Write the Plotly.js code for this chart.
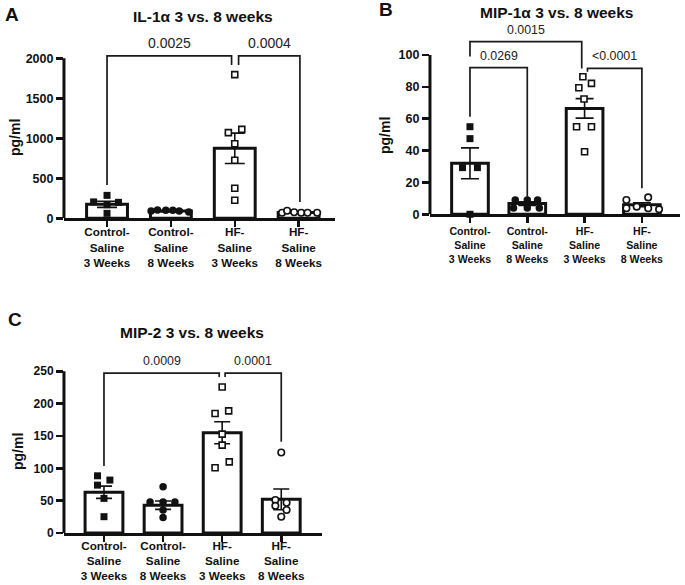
<!DOCTYPE html>
<html>
<head>
<meta charset="utf-8">
<script src="https://cdn.plot.ly/plotly-3.0.1.min.js"></script>
<style>html,body{margin:0;padding:0;background:#fff;}#chart{width:685px;height:585px;}</style>
</head>
<body>
<div id="chart"></div>
<script>
// ---------- data ----------
const categories = ["Control-<br>Saline<br>3 Weeks", "Control-<br>Saline<br>8 Weeks", "HF-<br>Saline<br>3 Weeks", "HF-<br>Saline<br>8 Weeks"];

// Panel A: IL-1α (pg/ml)
const aTitle = "IL-1α 3 vs. 8 weeks";
const aMeans = [175, 90, 875, 72];
const aSems = [38, 7, 190, 6];
const aCtrl3 = [287, 205, 200, 170, 62];
const aCtrl3Dx = [0, -0.21, 0.18, 0, 0];
const aCtrl8 = [90, 105, 100, 100, 90, 80];
const aCtrl8Dx = [-0.31, -0.21, -0.08, 0.03, 0.13, 0.28];
const aHf3 = [1796, 1112, 1071, 933, 725, 375, 225];
const aHf3Dx = [0, 0.11, -0.1, 0, 0, 0, 0];
const aHf8 = [70, 95, 75, 70, 70, 70];
const aHf8Dx = [-0.26, -0.18, -0.07, 0.04, 0.14, 0.29];
const aTicks = [0, 500, 1000, 1500, 2000];
// brackets: [from, to, top, leftEnd, rightEnd, label]
const aBrackets = [[0, 1.95, 2030, 416, 1916, "0.0025"], [2.06, 3.02, 2030, 1916, 204, "0.0004"]];

// Panel B: MIP-1α (pg/ml)
const bTitle = "MIP-1α 3 vs. 8 weeks";
const bMeans = [32, 6.7, 66.5, 6];
const bSems = [9.7, 1.2, 6.1, 1.2];
const bCtrl3 = [55, 47.5, 29.3, 29.3, 0];
const bCtrl3Dx = [0, 0, -0.13, 0.13, 0];
const bCtrl8 = [9, 9, 9, 4, 4, 4];
const bCtrl8Dx = [-0.21, 0, 0.18, -0.24, 0, 0.21];
const bHf3 = [86.4, 82.2, 79.5, 72.4, 55, 55, 39.3];
const bHf3Dx = [-0.03, 0.12, -0.1, -0.01, -0.14, 0.12, 0];
const bHf8 = [9, 10.6, 3.8, 4.8, 3.8, 3.1];
const bHf8Dx = [-0.27, 0.11, -0.27, -0.09, 0.11, 0.3];
const bTicks = [0, 20, 40, 60, 80, 100];
const bBrackets = [[0, 1.95, 108.4, 99, 91.6, "0.0015"], [0, 1, 92.1, 61.3, 11, "0.0269"], [2.05, 3, 91.6, 89.5, 16.3, "<0.0001"]];

// Panel C: MIP-2 (pg/ml)
const cTitle = "MIP-2 3 vs. 8 weeks";
const cMeans = [63, 43, 155, 52];
const cSems = [9.5, 6.5, 17, 16];
const cCtrl3 = [88.4, 81.8, 74, 53.5, 25.2];
const cCtrl3Dx = [-0.11, 0.1, -0.11, 0, 0];
const cCtrl8 = [71.5, 48, 48, 48, 35.5, 24];
const cCtrl8Dx = [0, -0.22, 0, 0.2, 0, 0];
const cHf3 = [225.8, 188.8, 184.7, 152.8, 135.8, 110, 100.8];
const cHf3Dx = [0, 0.11, -0.12, 0, 0, 0.12, -0.12];
const cHf8 = [124.5, 51, 46.8, 42, 35.5, 25.2];
const cHf8Dx = [0, -0.1, 0.09, -0.1, 0.09, 0];
const cTicks = [0, 50, 100, 150, 200, 250];
const cBrackets = [[0, 1.95, 247, 103.4, 241, "0.0009"], [2.05, 3, 247, 241, 141, "0.0001"]];

// ---------- build ----------
const FONT = "Liberation Sans, Arial, Helvetica, sans-serif";
const markerStyles = [
  {symbol: "square", size: 7, color: "#111", line: {width: 0}},
  {symbol: "circle", size: 7.5, color: "#111", line: {width: 0}},
  {symbol: "square", size: 6, color: "#fff", line: {width: 1.6, color: "#111"}},
  {symbol: "circle", size: 6.5, color: "#fff", line: {width: 1.6, color: "#111"}}
];

const traces = [];
const shapes = [];
const annotations = [];

function panel(ax, means, sems, groups, brackets, topTick, capW, pFont) {
  const xa = "x" + ax, ya = "y" + ax;
  traces.push({
    type: "bar", x: [0, 1, 2, 3], y: means, width: 0.64,
    xaxis: xa, yaxis: ya,
    marker: {color: "#fff", line: {color: "#111", width: 3}},
    error_y: {type: "data", array: sems, visible: true, color: "#111", thickness: 1.6, width: capW},
    hoverinfo: "none", showlegend: false
  });
  groups.forEach(function (g, i) {
    traces.push({
      type: "scatter", mode: "markers",
      x: g[1].map(function (d) { return i + d; }), y: g[0],
      xaxis: xa, yaxis: ya, cliponaxis: false,
      marker: markerStyles[i], hoverinfo: "none", showlegend: false
    });
  });
  const xr = ax === "" ? "x" : "x" + ax;
  const yr = ax === "" ? "y" : "y" + ax;
  // y axis line up to the top tick
  shapes.push({type: "line", xref: xr + " domain", yref: yr, x0: 0, x1: 0, y0: 0, y1: topTick,
    line: {color: "#111", width: 3}});
  brackets.forEach(function (b) {
    shapes.push({type: "path", xref: xr, yref: yr,
      path: "M " + b[0] + "," + b[3] + " L " + b[0] + "," + b[2] + " L " + b[1] + "," + b[2] + " L " + b[1] + "," + b[4],
      line: {color: "#1a1a1a", width: 1.7}});
    annotations.push({xref: xr, yref: yr, x: (b[0] + b[1]) / 2, y: b[2], yanchor: "bottom", yshift: 3,
      text: b[5], showarrow: false, font: {family: FONT, size: pFont, color: "#222"}});
  });
}

panel("", aMeans, aSems, [[aCtrl3, aCtrl3Dx], [aCtrl8, aCtrl8Dx], [aHf3, aHf3Dx], [aHf8, aHf8Dx]], aBrackets, 2000, 10, 14);
panel("2", bMeans, bSems, [[bCtrl3, bCtrl3Dx], [bCtrl8, bCtrl8Dx], [bHf3, bHf3Dx], [bHf8, bHf8Dx]], bBrackets, 100, 9, 12.4);
panel("3", cMeans, cSems, [[cCtrl3, cCtrl3Dx], [cCtrl8, cCtrl8Dx], [cHf3, cHf3Dx], [cHf8, cHf8Dx]], cBrackets, 250, 8, 12.4);

function xaxisDef(domain, range, anchor, fsize, standoff) {
  return {domain: domain, range: range, anchor: anchor, tickvals: [0, 1, 2, 3], ticktext: categories,
    ticks: "outside", ticklen: 6, tickwidth: 2.5, tickcolor: "#111", ticklabelstandoff: standoff,
    showline: true, linewidth: 3, linecolor: "#111", showgrid: false, zeroline: false, fixedrange: true,
    tickfont: {family: FONT, size: fsize, color: "#111", weight: "bold"}};
}
function yaxisDef(domain, range, anchor, ticks, fsize) {
  return {domain: domain, range: range, anchor: anchor, tickvals: ticks,
    ticks: "outside", ticklen: 7, tickwidth: 2.5, tickcolor: "#111",
    showline: false, showgrid: false, zeroline: false, fixedrange: true,
    tickfont: {family: FONT, size: fsize, color: "#111", weight: "bold"}};
}

function txt(x, y, text, size, angle) {
  annotations.push({xref: "paper", yref: "paper", x: x, y: y, xanchor: "center", yanchor: "middle",
    text: text, showarrow: false, textangle: angle || 0,
    font: {family: FONT, size: size, color: "#111", weight: "bold"}});
}
txt(0.2964, 0.9726, aTitle, 15.5);
txt(0.8131, 0.9778, bTitle, 15.5);
txt(0.2803, 0.4308, cTitle, 15.5);
txt(0.0168, 0.9752, "A", 19);
txt(0.5642, 0.9846, "B", 19);
txt(0.0212, 0.4530, "C", 19);
txt(0.0219, 0.7641, "pg/ml", 14, -90);
txt(0.5620, 0.7692, "pg/ml", 14, -90);
txt(0.0263, 0.2274, "pg/ml", 14, -90);

const layout = {
  width: 685, height: 585,
  margin: {l: 0, r: 0, t: 0, b: 0},
  paper_bgcolor: "#fff", plot_bgcolor: "#fff",
  font: {family: FONT, color: "#111"},
  showlegend: false, bargap: 0,
  xaxis: xaxisDef([0.0934, 0.4891], [-0.674, 3.57], "y", 11.7, -5),
  yaxis: yaxisDef([0.6268, 0.9140], [0, 2100], "x", aTicks, 12.5),
  xaxis2: xaxisDef([0.6277, 0.9927], [-0.698, 3.665], "y2", 10.6, -1),
  yaxis2: yaxisDef([0.6337, 0.9386], [0, 112], "x2", bTicks, 12.5),
  xaxis3: xaxisDef([0.0934, 0.4696], [-0.677, 3.684], "y3", 11.7, -6),
  yaxis3: yaxisDef([0.0889, 0.3786], [0, 262], "x3", cTicks, 12),
  shapes: shapes,
  annotations: annotations
};

Plotly.newPlot("chart", traces, layout, {staticPlot: true, displayModeBar: false});
</script>
</body>
</html>
